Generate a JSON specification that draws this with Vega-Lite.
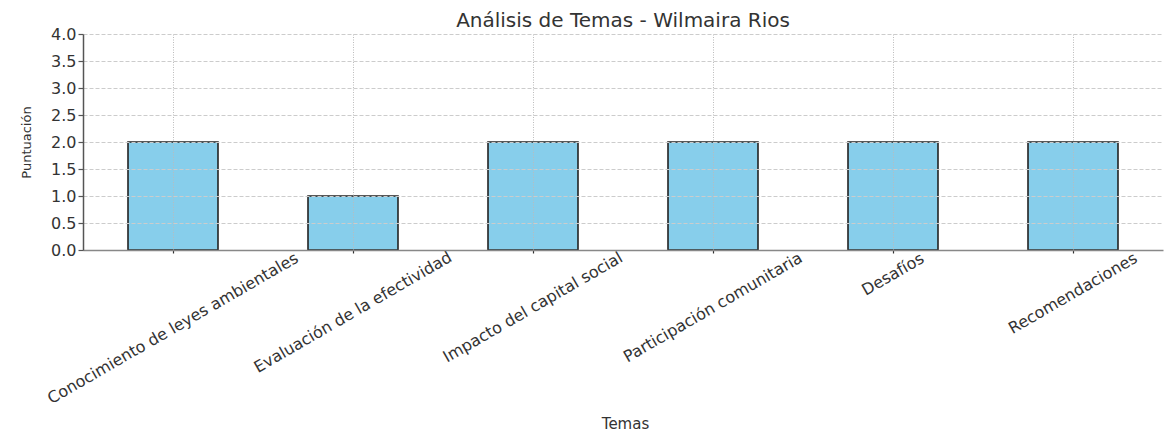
{
  "$schema": "https://vega.github.io/schema/vega-lite/v6.json",
  "width": 1080,
  "height": 216,
  "autosize": {"type": "none"},
  "padding": {"left": 83, "top": 34, "right": 7, "bottom": 184},
  "background": "white",
  "title": {
    "text": "Análisis de Temas - Wilmaira Rios",
    "anchor": "middle",
    "baseline": "alphabetic",
    "offset": 5,
    "dy": 26,
    "font": "DejaVu Sans",
    "fontSize": 20,
    "fontWeight": "normal",
    "color": "#333333"
  },
  "data": {
    "values": [
      {"tema": "Conocimiento de leyes ambientales", "puntuacion": 2},
      {"tema": "Evaluación de la efectividad", "puntuacion": 1},
      {"tema": "Impacto del capital social", "puntuacion": 2},
      {"tema": "Participación comunitaria", "puntuacion": 2},
      {"tema": "Desafíos", "puntuacion": 2},
      {"tema": "Recomendaciones", "puntuacion": 2}
    ]
  },
  "config": {
    "view": {"stroke": null},
    "font": "DejaVu Sans"
  },
  "mark": {"type": "bar", "fill": "#87CEEB", "stroke": "#222222", "strokeWidth": 1.6},
  "encoding": {
    "x": {
      "field": "tema",
      "type": "nominal",
      "sort": null,
      "scale": {"paddingInner": 0.5, "paddingOuter": 0.25},
      "axis": {
        "title": "Temas",
        "titleFont": "DejaVu Sans",
        "titleFontSize": 15,
        "titleFontWeight": "normal",
        "titleColor": "#333333",
        "titleX": 542,
        "titleY": 178,
        "titleAnchor": "middle",
        "titleAlign": "center",
        "titleBaseline": "alphabetic",
        "bandPosition": 0.5,
        "labelAngle": -30,
        "labelAlign": "center",
        "labelBaseline": "middle",
        "labelFont": "DejaVu Sans",
        "labelFontSize": 16,
        "labelColor": "#333333",
        "labelOverlap": false,
        "labelBound": false,
        "labelLimit": 0,
        "labelPadding": {
          "condition": [
            {"test": "datum.value === 'Conocimiento de leyes ambientales'", "value": 75},
            {"test": "datum.value === 'Evaluación de la efectividad'", "value": 59},
            {"test": "datum.value === 'Impacto del capital social'", "value": 54},
            {"test": "datum.value === 'Participación comunitaria'", "value": 54},
            {"test": "datum.value === 'Desafíos'", "value": 21}
          ],
          "value": 40
        },
        "ticks": true,
        "tickSize": 3,
        "tickColor": "#333333",
        "tickWidth": 1.2,
        "domainColor": "#888888",
        "domainWidth": 1.5,
        "grid": true,
        "gridColor": "#bbbbbb",
        "gridDash": [1, 1.5],
        "gridWidth": 1,
        "zindex": 1
      }
    },
    "y": {
      "field": "puntuacion",
      "type": "quantitative",
      "scale": {"domain": [0, 4], "nice": false},
      "axis": {
        "title": "Puntuación",
        "titleFont": "DejaVu Sans",
        "titleFontSize": 13,
        "titleFontWeight": "normal",
        "titleColor": "#333333",
        "titleX": -57,
        "titleY": 108,
        "titleAngle": -90,
        "titleAlign": "center",
        "titleBaseline": "middle",
        "values": [0, 0.5, 1, 1.5, 2, 2.5, 3, 3.5, 4],
        "format": ".1f",
        "labelFont": "DejaVu Sans",
        "labelFontSize": 16,
        "labelColor": "#333333",
        "labelPadding": 2,
        "labelOverlap": false,
        "tickSize": 5,
        "tickColor": "#555555",
        "tickWidth": 1.2,
        "domainColor": "#555555",
        "domainWidth": 1.5,
        "grid": true,
        "gridColor": "#cccccc",
        "gridDash": [4, 2],
        "gridWidth": 1,
        "zindex": 1
      }
    }
  }
}
